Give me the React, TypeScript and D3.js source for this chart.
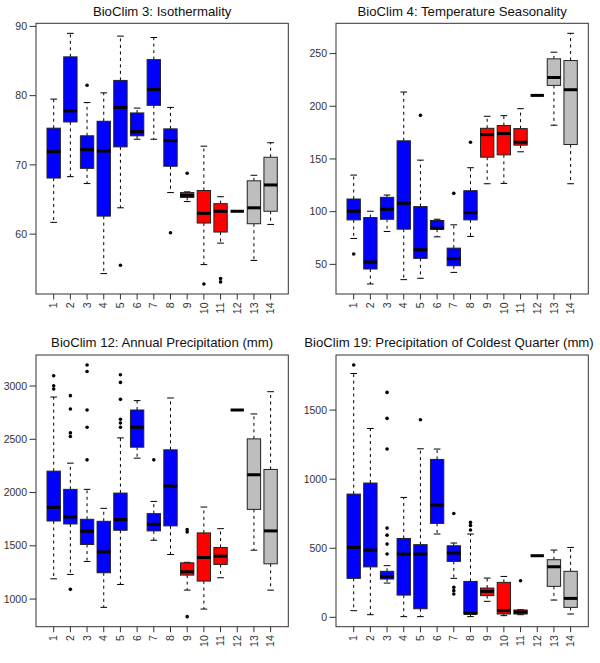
import React from 'react';
import * as d3 from 'd3';

const groups = ['1','2','3','4','5','6','7','8','9','10','11','12','13','14'];
const groupColors = ['#0000FF','#0000FF','#0000FF','#0000FF','#0000FF','#0000FF','#0000FF','#0000FF','#FF0000','#FF0000','#FF0000','#BEBEBE','#BEBEBE','#BEBEBE'];

// BioClim 3: Isothermality
const bio3Lo = [61.7, 68.3, 67.3, 54.3, 63.8, 73.7, 73.7, 66.0, 64.7, 55.6, 58.7, 63.3, 56.2, 61.4];
const bio3Q1 = [68.1, 76.2, 69.5, 62.6, 72.6, 74.2, 78.6, 69.8, 65.3, 61.6, 60.3, 63.3, 61.5, 63.3];
const bio3Med = [71.9, 77.8, 72.2, 72.0, 78.3, 74.8, 80.9, 73.5, 65.6, 63.0, 63.3, 63.3, 63.8, 67.1];
const bio3Q3 = [75.3, 85.6, 74.2, 76.3, 82.2, 77.5, 85.2, 75.2, 66.0, 66.3, 64.4, 63.3, 67.7, 71.1];
const bio3Hi = [79.5, 89.0, 79.0, 80.4, 88.6, 78.2, 88.4, 78.3, 66.1, 72.7, 65.4, 63.3, 68.5, 73.2];
const bio3Out = [[], [], [81.5], [], [55.5], [], [], [60.2], [68.8], [52.8], [53.6, 53.1], [], [], []];
const bio3Ticks = [60, 70, 80, 90];

// BioClim 4: Temperature Seasonality
const bio4Lo = [74.6, 31.4, 81.2, 35.5, 36.8, 76.1, 42.4, 76.5, 126.5, 126.8, 156.8, 210.3, 182.0, 126.5];
const bio4Q1 = [92.2, 45.6, 92.8, 83.4, 55.7, 83.4, 48.7, 92.2, 151.7, 153.9, 163.1, 210.3, 219.8, 163.7];
const bio4Med = [100.4, 52.2, 102.3, 108.0, 63.9, 84.3, 55.4, 99.1, 173.1, 174.1, 165.9, 210.3, 227.3, 215.7];
const bio4Q3 = [112.0, 94.4, 113.6, 167.2, 104.8, 91.6, 65.4, 119.9, 179.1, 181.7, 178.8, 210.3, 245.0, 243.4];
const bio4Hi = [134.7, 100.4, 115.8, 213.5, 148.9, 92.8, 87.5, 141.7, 190.5, 191.1, 197.7, 210.3, 251.3, 269.2];
const bio4Out = [[59.8], [], [], [], [191.4], [], [117.4], [165.9], [], [], [], [], [], []];
const bio4Ticks = [50, 100, 150, 200, 250];

// BioClim 12: Annual Precipitation (mm)
const bio12Lo = [1190, 1231, 1353, 922, 1137, 2323, 1552, 1418, 1084, 906, 1200, 2775, 1459, 1084];
const bio12Q1 = [1733, 1705, 1512, 1247, 1646, 2426, 1640, 1687, 1225, 1169, 1325, 2775, 1842, 1331];
const bio12Med = [1861, 1771, 1637, 1443, 1746, 2613, 1702, 2061, 1256, 1390, 1403, 2775, 2167, 1640];
const bio12Q3 = [2201, 2030, 1749, 1730, 1995, 2775, 1802, 2401, 1340, 1621, 1484, 2775, 2504, 2217];
const bio12Hi = [2897, 2276, 2030, 1852, 2513, 2863, 1917, 2888, 1345, 1864, 1661, 2775, 2738, 2947];
const bio12Out = [[3097, 3003, 2972], [2910, 2785, 2560, 2526, 1091], [3197, 3137, 2775, 2613, 2307], [], [3106, 3034, 2875, 2688, 2653, 2613], [], [2307], [], [1652, 1630, 835], [], [], [], [], []];
const bio12Ticks = [1000, 1500, 2000, 2500, 3000];

// BioClim 19: Precipitation of Coldest Quarter (mm)
const bio19Lo = [48, 19, 248, 5, 5, 603, 282, 5, 116, 12, 19, 446, 125, 24];
const bio19Q1 = [282, 365, 277, 161, 62, 680, 405, 24, 157, 24, 24, 446, 224, 72];
const bio19Med = [506, 487, 296, 458, 458, 813, 465, 29, 188, 48, 38, 446, 366, 137];
const bio19Q3 = [892, 972, 333, 571, 526, 1143, 518, 260, 212, 253, 53, 446, 417, 333];
const bio19Hi = [1765, 1367, 374, 868, 1220, 1218, 538, 603, 284, 296, 55, 446, 487, 506];
const bio19Out = [[1826], [], [1628, 1440, 1218, 646, 595, 530, 458], [], [1430], [], [752, 217, 193, 169], [687, 665, 632], [], [], [265], [], [], []];
const bio19Ticks = [0, 500, 1000, 1500];

const FONT = '"Liberation Sans", Arial, Helvetica, sans-serif';

type PanelProps = {
  title: string;
  titleX: number;
  titleY: number;
  left: number; right: number; top: number; bottom: number;
  yDomain: [number, number];
  lo: number[]; q1: number[]; med: number[]; q3: number[]; hi: number[]; out: number[][];
  ticks: number[];
};

function extendDomain(lo: number[], hi: number[], out: number[][]): [number, number] {
  const all = [...lo, ...hi, ...out.flat()];
  const mn = d3.min(all) as number;
  const mx = d3.max(all) as number;
  const ext = (mx - mn) * 0.04;
  return [mn - ext, mx + ext];
}

function Panel(p: PanelProps) {
  const x = d3.scaleLinear().domain([0.5 - 0.56, 14.5 + 0.56]).range([p.left, p.right]);
  const y = d3.scaleLinear().domain(p.yDomain).range([p.bottom, p.top]);
  const unit = x(1) - x(0);
  const bw = unit * 0.8;
  const sw = bw * 0.5;
  return (
    <g>
      <text x={p.titleX} y={p.titleY} textAnchor="middle" fontSize={13.2} fontFamily={FONT} fill="#111">{p.title}</text>
      {groups.map((g, i) => {
        const cx = x(i + 1);
        const col = groupColors[i];
        return (
          <g key={g}>
            <line x1={cx} x2={cx} y1={y(p.q3[i])} y2={y(p.hi[i])} stroke="#000" strokeWidth={1} strokeDasharray="3,3.5" />
            <line x1={cx} x2={cx} y1={y(p.q1[i])} y2={y(p.lo[i])} stroke="#000" strokeWidth={1} strokeDasharray="3,3.5" />
            <line x1={cx - sw / 2} x2={cx + sw / 2} y1={y(p.hi[i])} y2={y(p.hi[i])} stroke="#000" strokeWidth={1} />
            <line x1={cx - sw / 2} x2={cx + sw / 2} y1={y(p.lo[i])} y2={y(p.lo[i])} stroke="#000" strokeWidth={1} />
            <rect x={cx - bw / 2} y={y(p.q3[i])} width={bw} height={Math.max(0, y(p.q1[i]) - y(p.q3[i]))} fill={col} stroke="#222" strokeWidth={1} />
            <line x1={cx - bw / 2} x2={cx + bw / 2} y1={y(p.med[i])} y2={y(p.med[i])} stroke="#000" strokeWidth={3} />
            {p.out[i].map((v, j) => (
              <circle key={j} cx={cx} cy={y(v)} r={1.8} fill="#000" />
            ))}
          </g>
        );
      })}
      <rect x={p.left} y={p.top} width={p.right - p.left} height={p.bottom - p.top} fill="none" stroke="#333" strokeWidth={1} />
      {p.ticks.map(t => (
        <g key={t}>
          <line x1={p.left - 6.5} x2={p.left} y1={y(t)} y2={y(t)} stroke="#333" strokeWidth={1} />
          <text x={p.left - 9} y={y(t)} dy="0.35em" textAnchor="end" fontSize={10.5} fontFamily={FONT} fill="#333">{t}</text>
        </g>
      ))}
      {groups.map((g, i) => {
        const cx = x(i + 1);
        return (
          <g key={'t' + g}>
            <line x1={cx} x2={cx} y1={p.bottom} y2={p.bottom + 5.5} stroke="#333" strokeWidth={1} />
            <text transform={`translate(${cx},${p.bottom + 8.5}) rotate(-90)`} dy="0.35em" textAnchor="end" fontSize={10.5} fontFamily={FONT} fill="#333">{g}</text>
          </g>
        );
      })}
    </g>
  );
}

export default function App() {
  const L1 = 36, R1 = 288.3, L2 = 336, R2 = 588.3;
  const T1 = 23.3, B1 = 294, T2 = 355, B2 = 626.7;
  return (
    <svg width={600} height={663} style={{ position: 'absolute', left: 0, top: 0, background: '#fff' }}>
      <rect x={0} y={0} width={600} height={663} fill="#fff" />
      <Panel title="BioClim 3: Isothermality" titleX={(L1 + R1) / 2} titleY={15.5}
        left={L1} right={R1} top={T1} bottom={B1}
        yDomain={extendDomain(bio3Lo, bio3Hi, bio3Out)}
        lo={bio3Lo} q1={bio3Q1} med={bio3Med} q3={bio3Q3} hi={bio3Hi} out={bio3Out} ticks={bio3Ticks} />
      <Panel title="BioClim 4: Temperature Seasonality" titleX={(L2 + R2) / 2} titleY={15.5}
        left={L2} right={R2} top={T1} bottom={B1}
        yDomain={extendDomain(bio4Lo, bio4Hi, bio4Out)}
        lo={bio4Lo} q1={bio4Q1} med={bio4Med} q3={bio4Q3} hi={bio4Hi} out={bio4Out} ticks={bio4Ticks} />
      <Panel title="BioClim 12: Annual Precipitation (mm)" titleX={(L1 + R1) / 2} titleY={347}
        left={L1} right={R1} top={T2} bottom={B2}
        yDomain={extendDomain(bio12Lo, bio12Hi, bio12Out)}
        lo={bio12Lo} q1={bio12Q1} med={bio12Med} q3={bio12Q3} hi={bio12Hi} out={bio12Out} ticks={bio12Ticks} />
      <Panel title="BioClim 19: Precipitation of Coldest Quarter (mm)" titleX={449} titleY={347}
        left={L2} right={R2} top={T2} bottom={B2}
        yDomain={extendDomain(bio19Lo, bio19Hi, bio19Out)}
        lo={bio19Lo} q1={bio19Q1} med={bio19Med} q3={bio19Q3} hi={bio19Hi} out={bio19Out} ticks={bio19Ticks} />
    </svg>
  );
}
